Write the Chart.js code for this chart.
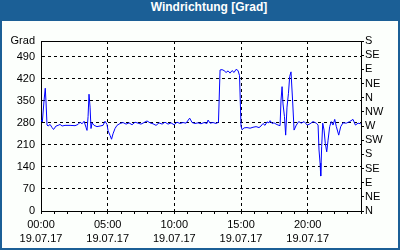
<!DOCTYPE html>
<html>
<head>
<meta charset="utf-8">
<script src="https://cdn.jsdelivr.net/npm/chart.js@4/dist/chart.umd.min.js"></script>
<style>
  html, body { margin: 0; padding: 0; background: #fff; }
  #frame { position: relative; width: 400px; height: 250px; background: #1b5f96; overflow: hidden; }
  #title { position: absolute; left: 0; top: 0; width: 400px; height: 21px; line-height: 21px;
           box-sizing: border-box; padding-left: 18px; text-align: center; color: #fff;
           font: bold 12px "Liberation Sans", Arial, sans-serif; }
  #inner { position: absolute; left: 2px; top: 21px; width: 396px; height: 227px; background: #fcfffc; }
</style>
</head>
<body>
<div id="frame">
  <div id="title">Windrichtung [Grad]</div>
  <div id="inner"><canvas id="c" width="396" height="227"></canvas></div>
</div>
<script>
// ---- data ----
const hours = [0.00,0.10,0.23,0.32,0.38,0.45,0.53,0.68,0.83,0.94,1.13,1.28,1.43,1.58,1.80,2.18,2.55,2.78,2.93,3.08,
  3.23,3.38,3.45,3.53,3.60,3.68,3.75,3.83,3.98,4.20,4.43,4.65,4.80,4.95,5.03,5.18,5.29,5.40,5.55,5.70,
  5.93,6.15,6.38,6.60,6.83,7.05,7.28,7.50,7.73,7.95,8.18,8.40,8.63,8.85,9.08,9.30,9.53,9.75,9.98,10.20,
  10.43,10.65,10.88,11.15,11.33,11.55,11.78,12.00,12.23,12.45,12.53,12.68,12.90,13.13,13.31,13.43,13.58,13.73,13.88,14.03,
  14.18,14.33,14.48,14.63,14.78,14.89,15.00,15.08,15.23,15.45,15.68,15.90,16.13,16.35,16.50,16.65,16.80,16.95,17.10,17.18,
  17.33,17.48,17.63,17.78,17.93,18.00,18.08,18.15,18.26,18.35,18.45,18.56,18.65,18.75,18.88,18.98,19.15,19.33,19.52,19.73,
  19.97,20.18,20.40,20.65,20.78,20.85,20.93,20.98,21.05,21.13,21.23,21.32,21.43,21.53,21.65,21.77,21.90,22.03,22.15,22.33,
  22.48,22.65,22.90,23.15,23.40,23.58,23.78,23.98];
const windDir = [290,283,352,390,343,273,270,275,265,259,270,272,275,270,272,272,271,275,282,277,
  285,265,256,300,371,330,262,280,272,268,270,272,285,275,255,240,228,245,262,272,
  278,281,276,280,274,282,279,276,281,286,280,277,272,280,276,282,276,280,274,282,
  278,281,279,295,281,278,280,277,281,278,289,279,281,278,282,448,449,446,440,445,
  438,446,440,450,446,430,270,258,264,265,263,266,268,265,270,278,272,283,280,287,
  278,280,276,273,271,352,395,340,300,241,330,374,427,442,343,257,273,284,279,284,
  273,277,284,279,273,194,152,111,204,279,257,215,188,225,268,284,273,291,268,241,
  268,280,279,284,291,273,279,277];
const leftTicks = [0,70,140,210,280,350,420,490];
const rightTickLabels = ['N','NE','E','SE','S','SW','W','NW','N','NE','E','SE','S'];
const dateLabel = '19.07.17';
const yMax = 540;

const FONT = { family: '"Liberation Sans", Arial, sans-serif', size: 11 };

const frameLines = {
  id: 'frameLines',
  afterDraw(chart) {
    const a = chart.chartArea, ctx = chart.ctx;
    ctx.save();
    ctx.strokeStyle = '#000';
    ctx.lineWidth = 1;
    ctx.beginPath();
    ctx.moveTo(a.left, Math.round(a.top) + 0.5);
    ctx.lineTo(a.right, Math.round(a.top) + 0.5);
    ctx.stroke();
    ctx.restore();
  }
};

new Chart(document.getElementById('c'), {
  type: 'line',
  data: {
    datasets: [{
      data: hours.map((h, i) => ({ x: h, y: windDir[i] })),
      borderColor: '#0000ff',
      borderWidth: 1,
      pointRadius: 0,
      tension: 0,
      fill: false,
      yAxisID: 'y'
    }]
  },
  options: {
    responsive: false,
    animation: false,
    devicePixelRatio: 1,
    layout: { padding: { top: 20, bottom: 1, left: 0, right: 0 } },
    plugins: { legend: { display: false }, title: { display: false }, tooltip: { enabled: false } },
    scales: {
      x: {
        type: 'linear', min: 0, max: 24, position: 'bottom',
        afterBuildTicks: s => { s.ticks = Array.from({ length: 25 }, (_, i) => ({ value: i })); },
        afterFit: s => { s.height = 36; },
        ticks: {
          autoSkip: false, maxRotation: 0, minRotation: 0, padding: 3, color: '#000',
          font: { ...FONT, lineHeight: 1.36 },
          callback: v => (v % 5 === 0 && v < 24) ? [String(v).padStart(2, '0') + ':00', dateLabel] : ''
        },
        grid: {
          color: c => (c.tick && c.tick.value % 5 === 0 && c.tick.value > 0 && c.tick.value < 24) ? '#000' : 'rgba(0,0,0,0)',
          tickColor: '#000', tickLength: 3, drawTicks: true, lineWidth: 1
        },
        border: { display: true, color: '#000', dash: [3, 3] }
      },
      y: {
        type: 'linear', min: 0, max: yMax, position: 'left',
        afterBuildTicks: s => { s.ticks = leftTicks.concat([yMax]).map(v => ({ value: v })); },
        afterFit: s => { s.width = 39; },
        ticks: { autoSkip: false, padding: 6, color: '#000', font: FONT, callback: v => v === yMax ? 'Grad' : String(v) },
        grid: {
          color: c => (c.tick && c.tick.value > 0 && c.tick.value < yMax) ? '#000' : 'rgba(0,0,0,0)',
          drawTicks: false, lineWidth: 1
        },
        border: { display: true, color: '#000', dash: [3, 3] }
      },
      y2: {
        type: 'linear', min: 0, max: yMax, position: 'right',
        afterBuildTicks: s => { s.ticks = rightTickLabels.map((_, i) => ({ value: i * 45 })); },
        afterFit: s => { s.width = 37; },
        ticks: { autoSkip: false, padding: 1, color: '#000', font: FONT, callback: (v) => rightTickLabels[Math.round(v / 45)] },
        grid: { drawOnChartArea: false, tickColor: '#000', tickLength: 3, drawTicks: true },
        border: { display: true, color: '#000' }
      }
    }
  },
  plugins: [frameLines]
});
</script>
</body>
</html>
